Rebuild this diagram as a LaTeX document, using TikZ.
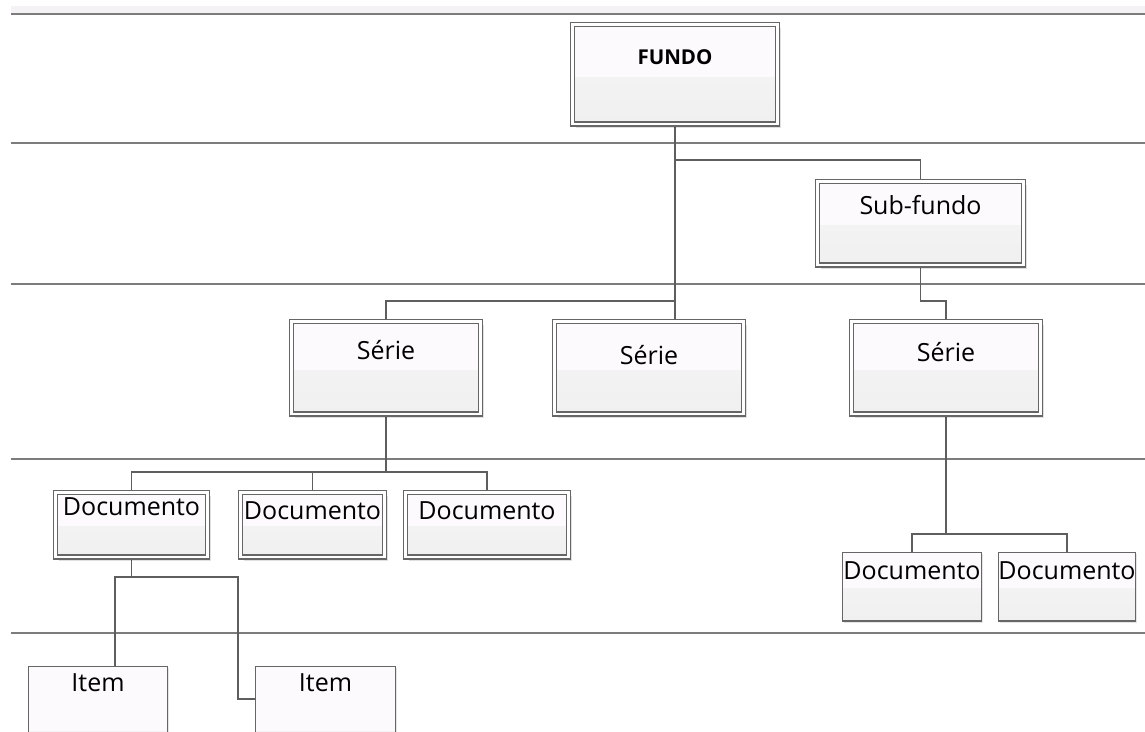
\documentclass[tikz,border=0pt]{standalone}
\usepackage{fontspec}
\setmainfont{Open Sans}
\usetikzlibrary{calc,shadows}
\definecolor{topc}{HTML}{FDFAFD}
\definecolor{botc}{HTML}{F6F6F6}
\definecolor{botc2}{HTML}{F1F0F1}
\definecolor{bordc}{HTML}{666666}
\definecolor{connc}{HTML}{5E5E5E}
\definecolor{bandc}{HTML}{7C7C7C}
\definecolor{stripc}{HTML}{F5F2F5}
\pgfdeclarelayer{bg}
\pgfsetlayers{bg,main}
\tikzset{
  boxfill/.style={fill=topc,
    path picture={\shade[top color=botc, bottom color=botc2]
      ($(path picture bounding box.south west)!0.47!(path picture bounding box.north west)$)
      rectangle (path picture bounding box.south east);}},
  dbl/.style={boxfill, draw=bordc, line width=1.3pt, double=white, double distance=2.6pt,
    inner xsep=0pt, inner ysep=0pt, text=black,
    drop shadow={shadow xshift=3.6pt, shadow yshift=-3.6pt, fill=black, opacity=0.12},
    font=\fontsize{25}{29}\selectfont},
  sgl/.style={boxfill, draw=bordc, line width=1.3pt,
    inner xsep=0pt, inner ysep=0pt, text=black,
    drop shadow={shadow xshift=1.6pt, shadow yshift=-1.6pt, fill=black, opacity=0.10},
    font=\fontsize{25}{29}\selectfont},
  conn/.style={draw=connc, line width=1.3pt},
  band/.style={draw=bandc, line width=2pt},
}
% #1 style, #2 inset, #3 name, #4 x1, #5 y1, #6 x2, #7 y2, #8 baseline, #9 text
\newcommand\genbox[9]{%
  \pgfmathsetmacro\bxw{#6-#4-2*#2}%
  \pgfmathsetmacro\bxth{#8-#5-#2}%
  \pgfmathsetmacro\bxtd{#7-#8-#2}%
  \pgfmathsetmacro\bxcx{(#4+#6)/2}%
  \pgfmathsetmacro\bxty{#5+#2}%
  \node[#1, anchor=north, minimum width=\bxw pt, text height=\bxth pt, text depth=\bxtd pt] (#3) at (\bxcx,\bxty) {#9};%
}
\begin{document}
\begin{tikzpicture}[x=1pt,y=-1pt]
\useasboundingbox (0,0) rectangle (1145,731);
\begin{pgfonlayer}{bg}
\fill[white] (0,0) rectangle (1145,731);
\fill[stripc] (11,6) rectangle (1145,13);
\foreach \yy in {14,143,283.5,459,633} \draw[band] (11,\yy) -- (1145,\yy);
\end{pgfonlayer}

\genbox{dbl,font=\fontsize{20.5}{24}\selectfont\bfseries}{2.6}{FUNDO}{570}{21}{780}{126}{64}{FUNDO}
\genbox{dbl}{2.6}{SF}{815}{178}{1026}{267}{214}{Sub-fundo}
\genbox{dbl}{2.6}{S1}{289}{318}{483}{416}{359}{Série}
\genbox{dbl}{2.6}{S2}{552}{318}{746}{416}{364}{Série}
\genbox{dbl}{2.6}{S3}{849}{318}{1043}{416}{361}{Série}
\genbox{dbl}{2.6}{D1}{53}{489}{210}{559}{515}{Documento}
\genbox{dbl}{2.6}{D2}{238}{489}{387}{559}{519}{Documento}
\genbox{dbl}{2.6}{D3}{403}{489}{571}{559}{519}{Documento}
\genbox{sgl}{0.65}{D4}{842}{551}{982}{621}{579}{Documento}
\genbox{sgl}{0.65}{D5}{999}{551}{1135}{621}{579}{Documento}
\genbox{sgl}{0.65}{I1}{28}{665}{168}{790}{691}{Item}
\genbox{sgl}{0.65}{I2}{255}{665}{396}{790}{691}{Item}

\coordinate (j1) at (675,160);
\coordinate (j2) at (675,301);
\coordinate (s2in) at (675,320);
\coordinate (j3) at (920.5,301);
\coordinate (j4) at (386,472);
\coordinate (j5) at (131.5,577);
\coordinate (i1in) at (115,667);
\coordinate (k1) at (238,699);
\coordinate (j6) at (946,534);

\begin{pgfonlayer}{bg}
\draw[conn] (FUNDO.south) -- (s2in);
\draw[conn] (j1) -| (SF.north);
\draw[conn] (j2) -| (S1.north);
\draw[conn] (SF.south) -- (j3) -| (S3.north);
\draw[conn] (S1.south) -- (j4);
\draw[conn] (j4) -| (D1.north);
\draw[conn] (j4) -| (D2.north);
\draw[conn] (j4) -| (D3.north);
\draw[conn] (D1.south) -- (j5);
\draw[conn] (j5) -| (i1in);
\draw[conn] (j5) -| (k1) -- (k1 -| I2.west);
\draw[conn] (S3.south) -- (j6);
\draw[conn] (j6) -| (D4.north);
\draw[conn] (j6) -| (D5.north);
\end{pgfonlayer}
\end{tikzpicture}
\end{document}
